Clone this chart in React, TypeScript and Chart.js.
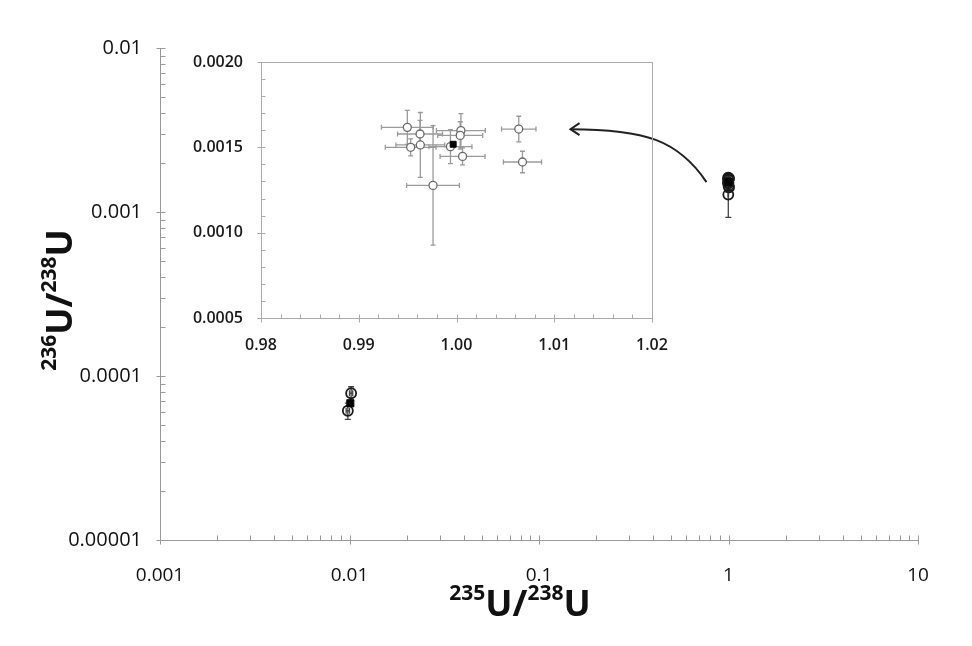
import React, { useEffect, useRef } from 'react';
import { Chart, registerables } from 'chart.js';

Chart.register(...registerables);

// ---------- main (log-log) axes ----------
const xDecades = [0.001, 0.01, 0.1, 1, 10];
const xTickLabels = ['0.001', '0.01', '0.1', '1', '10'];
const yDecades = [0.00001, 0.0001, 0.001, 0.01];
const yTickLabels = ['0.00001', '0.0001', '0.001', '0.01'];
const minorSignificands = [2, 3, 4, 5, 6, 7, 8, 9];

// ---------- samples near natural 235U/238U (also shown in the inset) ----------
const natX = [0.99497, 0.99627, 0.99531, 0.9963, 0.9976, 0.99938, 1.00045, 1.00038, 1.00062, 1.00637, 1.00675];
const natY = [0.001617, 0.001578, 0.0015, 0.001514, 0.001277, 0.001504, 0.001598, 0.00157, 0.001447, 0.001607, 0.001414];
const natXErr = [0.00265, 0.0023, 0.0026, 0.0025, 0.0027, 0.0022, 0.0025, 0.0023, 0.0023, 0.00176, 0.00195];
const natYErr = [0.0001, 0.00008, 0.00005, 0.00019, 0.00035, 0.0001, 0.0001, 0.00008, 0.00005, 0.000075, 0.000063];
const natMeanX = [0.99966];
const natMeanY = [0.001518];

// ---------- depleted samples near 0.01 ----------
const lowX = [0.0102, 0.0098];
const lowY = [0.0000785, 0.0000614];
const lowXErr = [0.0002, 0.0002];
const lowYErr = [0.0000075, 0.000007];
const lowMeanX = [0.0101];
const lowMeanY = [0.0000682];

// ---------- inset axes ----------
const insetXMin = 0.98;
const insetXMax = 1.02;
const insetXStep = 0.01;
const insetXMinorStep = 0.002;
const insetYMin = 0.0005;
const insetYMax = 0.002;
const insetYStep = 0.0005;
const insetYMinorStep = 0.0001;

const xTitleParts: [string, boolean][] = [['235', true], ['U/', false], ['238', true], ['U', false]];
const yTitleParts: [string, boolean][] = [['236', true], ['U/', false], ['238', true], ['U', false]];

const FONT = "'Open Sans', sans-serif";

function seq(min: number, max: number, step: number) {
  const out: number[] = [];
  const n = Math.round((max - min) / step);
  for (let i = 0; i <= n; i++) out.push(+(min + i * step).toFixed(8));
  return out;
}

const errorBarPlugin = {
  id: 'errorBars',
  beforeDatasetsDraw(chart: any) {
    const ctx = chart.ctx;
    const xs = chart.scales.x;
    const ys = chart.scales.y;
    chart.data.datasets.forEach((ds: any) => {
      if (!ds.errX && !ds.errY) return;
      ctx.save();
      ctx.strokeStyle = ds.errColor || '#888';
      ctx.lineWidth = ds.errWidth || 1;
      const cap = ds.errCap || 2.5;
      ds.data.forEach((p: any, i: number) => {
        const px = xs.getPixelForValue(p.x);
        const py = ys.getPixelForValue(p.y);
        if (ds.errX) {
          const l = xs.getPixelForValue(p.x - ds.errX[i]);
          const r = xs.getPixelForValue(p.x + ds.errX[i]);
          ctx.beginPath();
          ctx.moveTo(l, py); ctx.lineTo(r, py);
          ctx.moveTo(l, py - cap); ctx.lineTo(l, py + cap);
          ctx.moveTo(r, py - cap); ctx.lineTo(r, py + cap);
          ctx.stroke();
        }
        if (ds.errY) {
          const t = ys.getPixelForValue(p.y + ds.errY[i]);
          const b = ys.getPixelForValue(p.y - ds.errY[i]);
          ctx.beginPath();
          ctx.moveTo(px, t); ctx.lineTo(px, b);
          ctx.moveTo(px - cap, t); ctx.lineTo(px + cap, t);
          ctx.moveTo(px - cap, b); ctx.lineTo(px + cap, b);
          ctx.stroke();
        }
      });
      ctx.restore();
    });
  },
};

const axisTicksPlugin = {
  id: 'axisTicks',
  afterDraw(chart: any, _args: any, opts: any) {
    const { ctx, chartArea } = chart;
    const xs = chart.scales.x;
    const ys = chart.scales.y;
    ctx.save();
    ctx.strokeStyle = opts.color;
    ctx.lineWidth = 1;
    if (opts.frame) {
      ctx.strokeRect(Math.round(chartArea.left) + 0.5, Math.round(chartArea.top) + 0.5,
        Math.round(chartArea.right - chartArea.left), Math.round(chartArea.bottom - chartArea.top));
    }
    const bottom = Math.round(chartArea.bottom) + 0.5;
    const left = Math.round(chartArea.left) + 0.5;
    const tx = (v: number, out: number, inn: number) => {
      const px = Math.round(xs.getPixelForValue(v)) + 0.5;
      ctx.beginPath(); ctx.moveTo(px, bottom + out); ctx.lineTo(px, bottom - inn); ctx.stroke();
    };
    const ty = (v: number, out: number, inn: number) => {
      const py = Math.round(ys.getPixelForValue(v)) + 0.5;
      ctx.beginPath(); ctx.moveTo(left - out, py); ctx.lineTo(left + inn, py); ctx.stroke();
    };
    opts.xMinor.forEach((v: number) => tx(v, 0, opts.minorIn));
    opts.yMinor.forEach((v: number) => ty(v, 0, opts.minorIn));
    opts.xMajor.forEach((v: number) => tx(v, opts.majorOut, opts.majorIn));
    opts.yMajor.forEach((v: number) => ty(v, opts.majorOut, opts.majorIn));
    ctx.restore();
  },
};

function drawSup(ctx: CanvasRenderingContext2D, parts: [string, boolean][], cx: number, baseline: number) {
  const big = `bold 36px ${FONT}`;
  const small = `bold 21px ${FONT}`;
  let total = 0;
  const widths = parts.map(([t, sup]) => {
    ctx.font = sup ? small : big;
    const w = ctx.measureText(t).width;
    total += w;
    return w;
  });
  let x = cx - total / 2;
  ctx.fillStyle = '#111';
  ctx.textAlign = 'left';
  ctx.textBaseline = 'alphabetic';
  parts.forEach(([t, sup], i) => {
    ctx.font = sup ? small : big;
    ctx.fillText(t, x, sup ? baseline - 16 : baseline);
    x += widths[i];
  });
}

const titlesPlugin = {
  id: 'supTitles',
  afterDraw(chart: any) {
    const ctx = chart.ctx;
    const ca = chart.chartArea;
    ctx.save();
    drawSup(ctx, xTitleParts, (ca.left + ca.right) / 2 - 19, 608);
    ctx.translate(64, (ca.top + ca.bottom) / 2 + 6);
    ctx.rotate(-Math.PI / 2);
    drawSup(ctx, yTitleParts, 0, 0);
    ctx.restore();
  },
};

const arrowPlugin = {
  id: 'insetArrow',
  afterDraw(chart: any) {
    const ctx = chart.ctx;
    const xs = chart.scales.x;
    const ys = chart.scales.y;
    const tx = xs.getPixelForValue(1) - 22;
    const ty = ys.getPixelForValue(0.00152);
    const hx = tx - 136;
    const hy = ty - 53;
    ctx.save();
    ctx.strokeStyle = '#222';
    ctx.lineWidth = 2;
    ctx.beginPath();
    ctx.moveTo(tx, ty);
    ctx.bezierCurveTo(tx - 28, ty - 42, tx - 62, hy, hx, hy);
    ctx.stroke();
    ctx.beginPath();
    ctx.moveTo(hx + 9, hy - 6);
    ctx.lineTo(hx, hy);
    ctx.lineTo(hx + 9, hy + 6);
    ctx.stroke();
    ctx.restore();
  },
};

const noPadX = (h: number) => (s: any) => { s.height = h; s.paddingLeft = 0; s.paddingRight = 0; };
const noPadY = (w: number) => (s: any) => { s.width = w; s.paddingTop = 0; s.paddingBottom = 0; };

export default function App() {
  const mainRef = useRef<HTMLCanvasElement>(null);
  const insetRef = useRef<HTMLCanvasElement>(null);

  useEffect(() => {
    const xMinorMain: number[] = [];
    xDecades.slice(0, -1).forEach((d) => minorSignificands.forEach((m) => xMinorMain.push(d * m)));
    const yMinorMain: number[] = [];
    yDecades.slice(0, -1).forEach((d) => minorSignificands.forEach((m) => yMinorMain.push(d * m)));

    const samples = [
      ...natX.map((x, i) => ({ x, y: natY[i] })),
      ...lowX.map((x, i) => ({ x, y: lowY[i] })),
    ];
    const means = [
      ...natMeanX.map((x, i) => ({ x, y: natMeanY[i] })),
      ...lowMeanX.map((x, i) => ({ x, y: lowMeanY[i] })),
    ];

    const main = new Chart(mainRef.current as HTMLCanvasElement, {
      type: 'scatter',
      data: {
        datasets: [
          {
            label: 'samples',
            data: samples,
            pointStyle: 'circle',
            pointRadius: 5,
            backgroundColor: 'rgba(255,255,255,0)',
            borderColor: '#1a1a1a',
            borderWidth: 1.8,
            order: 1,
            errX: [...natXErr, ...lowXErr],
            errY: [...natYErr, ...lowYErr],
            errColor: '#444444',
            errWidth: 1.3,
            errCap: 3,
          } as any,
          {
            label: 'mean',
            data: means,
            pointStyle: 'rect',
            pointRadius: 5,
            backgroundColor: '#000000',
            borderColor: '#000000',
            borderWidth: 1,
            order: 0,
          },
        ],
      },
      options: {
        animation: false,
        responsive: false,
        layout: { padding: { left: 0, right: 46, top: 40, bottom: 0 } },
        plugins: {
          legend: { display: false },
          tooltip: { enabled: false },
          axisTicks: {
            color: '#9a9a9a',
            frame: false,
            xMajor: xDecades,
            yMajor: yDecades,
            xMinor: xMinorMain,
            yMinor: yMinorMain,
            majorOut: 4,
            majorIn: 5,
            minorIn: 5,
          },
        } as any,
        scales: {
          x: {
            type: 'logarithmic',
            position: 'bottom',
            min: 0.001,
            max: 10,
            afterBuildTicks: (s: any) => { s.ticks = xDecades.map((v) => ({ value: v })); },
            afterFit: noPadX(98),
            grid: { display: false },
            border: { display: true, color: '#9a9a9a', width: 1 },
            ticks: {
              autoSkip: false,
              maxRotation: 0,
              padding: 16,
              color: '#111',
              font: { family: FONT, size: 19 },
              callback: (v: any) => { const i = xDecades.indexOf(v); return i >= 0 ? xTickLabels[i] : ''; },
            },
          },
          y: {
            type: 'logarithmic',
            position: 'left',
            min: 0.00001,
            max: 0.01,
            afterBuildTicks: (s: any) => { s.ticks = yDecades.map((v) => ({ value: v })); },
            afterFit: noPadY(152),
            grid: { display: false },
            border: { display: true, color: '#9a9a9a', width: 1 },
            ticks: {
              autoSkip: false,
              padding: 10,
              color: '#111',
              font: { family: FONT, size: 20 },
              callback: (v: any) => { const i = yDecades.indexOf(v); return i >= 0 ? yTickLabels[i] : ''; },
            },
          },
        },
      },
      plugins: [errorBarPlugin, axisTicksPlugin, titlesPlugin, arrowPlugin],
    } as any);

    const inset = new Chart(insetRef.current as HTMLCanvasElement, {
      type: 'scatter',
      data: {
        datasets: [
          {
            label: 'samples',
            data: natX.map((x, i) => ({ x, y: natY[i] })),
            pointStyle: 'circle',
            pointRadius: 4,
            backgroundColor: '#ffffff',
            borderColor: '#6a6a6a',
            borderWidth: 1.3,
            order: 1,
            errX: natXErr,
            errY: natYErr,
            errColor: '#9a9a9a',
            errWidth: 1.3,
            errCap: 2.5,
          } as any,
          {
            label: 'mean',
            data: natMeanX.map((x, i) => ({ x, y: natMeanY[i] })),
            pointStyle: 'rect',
            pointRadius: 4.2,
            backgroundColor: '#000000',
            borderColor: '#000000',
            borderWidth: 1,
            order: 0,
          },
        ],
      },
      options: {
        animation: false,
        responsive: false,
        layout: { padding: { left: 0, right: 18, top: 12, bottom: 0 } },
        plugins: {
          legend: { display: false },
          tooltip: { enabled: false },
          axisTicks: {
            color: '#aaaaaa',
            frame: true,
            xMajor: seq(insetXMin, insetXMax, insetXStep),
            yMajor: seq(insetYMin, insetYMax, insetYStep),
            xMinor: seq(insetXMin, insetXMax, insetXMinorStep),
            yMinor: seq(insetYMin, insetYMax, insetYMinorStep),
            majorOut: 4,
            majorIn: 3,
            minorIn: 4,
          },
        } as any,
        scales: {
          x: {
            type: 'linear',
            min: insetXMin,
            max: insetXMax,
            afterFit: noPadX(42),
            grid: { display: false },
            border: { display: true, color: '#aaaaaa', width: 1 },
            ticks: {
              stepSize: insetXStep,
              autoSkip: false,
              maxRotation: 0,
              padding: 10,
              color: '#1a1a1a',
              font: { family: FONT, size: 16, weight: '600' },
              callback: (v: any) => Number(v).toFixed(2),
            },
          },
          y: {
            type: 'linear',
            min: insetYMin,
            max: insetYMax,
            afterFit: noPadY(71),
            grid: { display: false },
            border: { display: true, color: '#aaaaaa', width: 1 },
            ticks: {
              stepSize: insetYStep,
              autoSkip: false,
              padding: 10,
              color: '#1a1a1a',
              font: { family: FONT, size: 16, weight: '600' },
              callback: (v: any) => Number(v).toFixed(4),
            },
          },
        },
      },
      plugins: [errorBarPlugin, axisTicksPlugin],
    } as any);

    return () => {
      main.destroy();
      inset.destroy();
    };
  }, []);

  return (
    <div style={{ position: 'relative', width: 956, height: 630 }}>
      <canvas ref={mainRef} width={956} height={630}
        style={{ position: 'absolute', left: 0, top: 0, width: 956, height: 630 }} />
      <canvas ref={insetRef} width={480} height={310}
        style={{ position: 'absolute', left: 182, top: 42, width: 480, height: 310 }} />
    </div>
  );
}
